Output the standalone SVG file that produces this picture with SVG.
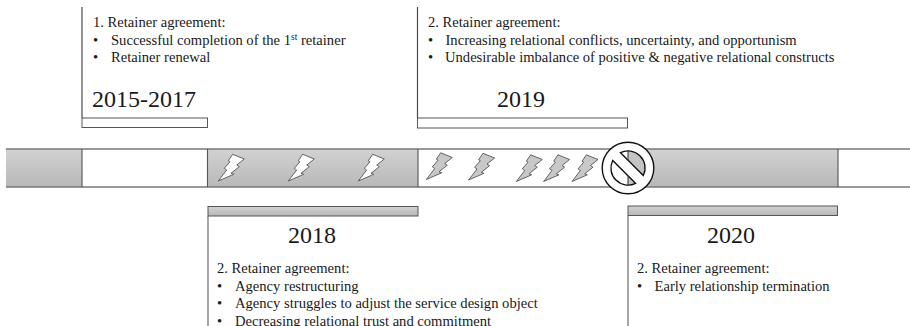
<svg xmlns="http://www.w3.org/2000/svg" width="910" height="326" viewBox="0 0 910 326">
<style>
text{font-family:"Liberation Serif","Times New Roman",serif;fill:#1a1a1a}
.b{font-size:14.6px}
.y{font-size:24px}
.ln{fill:none;stroke:#4a4a4a;stroke-width:1.2}
.bar{fill:url(#g);stroke:none}
.w{fill:#fff;stroke:#555;stroke-width:1}
.h{fill:url(#g);stroke:#555;stroke-width:1}
.rail{stroke:#777;stroke-width:1.3;fill:none}
.sep{stroke:#555;stroke-width:1.1;fill:none}
.bw{fill:#fff;stroke:#444;stroke-width:.8;stroke-linejoin:miter}
.bg{fill:#c8c8c8;stroke:#444;stroke-width:.8;stroke-linejoin:miter}
.ring{stroke:#111;stroke-width:1.4}
</style>
<defs>
<linearGradient id="g" x1="0" y1="0" x2="0" y2="1"><stop offset="0" stop-color="#d2d2d2"/><stop offset="1" stop-color="#b8b8b8"/></linearGradient>
<path id="bolt" d="M232.700 154.300L244.300 159L236.700 165L239.300 166.700L231 173.300L233.700 174.300L218.300 181L226.700 170L224.300 168.300L230 161.700L228.300 160.700Z"/>
<clipPath id="rh"><rect x="628" y="140" width="30" height="56"/></clipPath>
</defs>
<g id="timeline">
<rect class="bar" x="6" y="149" width="76" height="38"/>
<rect class="bar" x="208" y="149" width="210" height="38"/>
<rect class="bar" x="628" y="149" width="210" height="38"/>
<path class="rail" d="M6 149H910"/>
<path class="rail" d="M6 187H910"/>
<path class="sep" d="M82 149V187M207.500 149V187M418 149V187M838 149V187"/>
</g>
<g id="bolts-white">
<use href="#bolt" class="bw"/>
<use href="#bolt" class="bw" x="70"/>
<use href="#bolt" class="bw" x="140"/>
</g>
<g id="bolts-gray">
<use href="#bolt" class="bg" x="208" y="-1.500"/>
<use href="#bolt" class="bg" x="250.300" y="-1"/>
<use href="#bolt" class="bg" x="298" y="0.500"/>
<use href="#bolt" class="bg" x="325.300" y="0.500"/>
<use href="#bolt" class="bg" x="353.700" y="0.500"/>
</g>
<g id="no-symbol">
<circle class="ring" cx="628" cy="168" r="25.800" fill="#fff"/>
<path d="M620.500 152.700A17 17 0 0 1 643.300 175.500ZM635.500 183.300A17 17 0 0 1 612.700 160.500Z" fill="#c4c4c4" clip-path="url(#rh)"/>
<path class="ring" fill="none" d="M620.500 152.700A17 17 0 0 1 643.300 175.500ZM635.500 183.300A17 17 0 0 1 612.700 160.500Z"/>
<path d="M628 151V160.200M628 175.800V185" stroke="#333" stroke-width="1"/>
</g>
<g id="period-2015">
<path class="ln" d="M82 7V118"/>
<rect class="w" x="82" y="118" width="125.500" height="9.500"/>
<text class="b" x="93" y="26.500">1. Retainer agreement:</text>
<text class="b" x="93" y="44.500">•</text><text class="b" x="111" y="44.500">Successful completion of the 1<tspan font-size="9.500" dy="-5">st</tspan><tspan dy="5"> retainer</tspan></text>
<text class="b" x="93" y="62">•</text><text class="b" x="111" y="62">Retainer renewal</text>
<text class="y" x="92" y="106.500">2015-2017</text>
</g>
<g id="period-2019">
<path class="ln" d="M417.500 7V118"/>
<rect class="w" x="417.500" y="118" width="210" height="10"/>
<text class="b" x="428" y="26.500">2. Retainer agreement:</text>
<text class="b" x="428" y="44.500">•</text><text class="b" x="445.500" y="44.500">Increasing relational conflicts, uncertainty, and opportunism</text>
<text class="b" x="428" y="62">•</text><text class="b" x="445" y="62">Undesirable imbalance of positive &amp; negative relational constructs</text>
<text class="y" x="497" y="106.500">2019</text>
</g>
<g id="period-2018">
<path class="rail" d="M208 216V326"/>
<rect class="h" x="208" y="206.500" width="210" height="9.500"/>
<text class="y" x="288" y="243">2018</text>
<text class="b" x="217" y="273">2. Retainer agreement:</text>
<text class="b" x="217" y="291">•</text><text class="b" x="235" y="291">Agency restructuring</text>
<text class="b" x="217" y="308">•</text><text class="b" x="235" y="308">Agency struggles to adjust the service design object</text>
<text class="b" x="217" y="325.500">•</text><text class="b" x="235" y="325.500">Decreasing relational trust and commitment</text>
</g>
<g id="period-2020">
<path class="rail" d="M628 216V326"/>
<rect class="h" x="628" y="206" width="209.500" height="9.500"/>
<text class="y" x="707" y="243">2020</text>
<text class="b" x="637" y="273">2. Retainer agreement:</text>
<text class="b" x="637" y="291">•</text><text class="b" x="654.500" y="291">Early relationship termination</text>
</g>
</svg>
